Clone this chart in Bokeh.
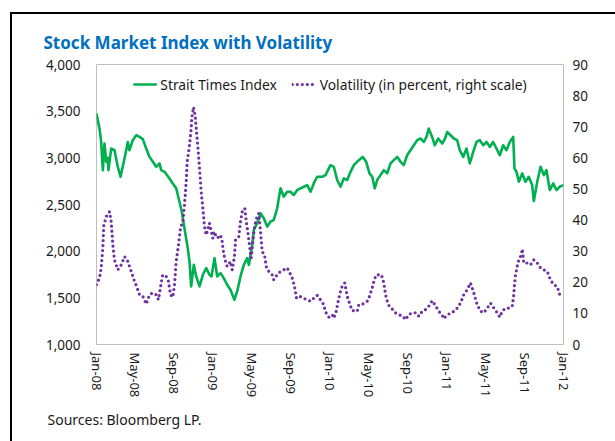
from bokeh.plotting import figure
from bokeh.models import (Range1d, LinearAxis, FixedTicker, NumeralTickFormatter,
                          Title, Legend, LegendItem, InlineStyleSheet)
from bokeh.embed import file_html
from bokeh.resources import INLINE

# months since Jan-2008
sti_months = [0, 0.31, 0.48, 0.65, 0.82, 1.00, 1.16, 1.23, 1.51, 1.85,
              2.19, 2.47, 2.88, 3.22, 3.39, 3.73, 4.08, 4.42, 4.76, 5.11,
              5.45, 5.79, 6.14, 6.48, 6.65, 6.99, 7.50, 7.84, 8.19, 8.53,
              8.77, 9.04, 9.38, 9.56, 9.73, 10.00, 10.25, 10.59, 10.93, 11.28,
              11.61, 11.82, 12.13, 12.41, 12.75, 13.08, 13.43, 13.77, 14.18, 14.46,
              14.80, 15.14, 15.49, 15.67, 16.00, 16.17, 16.52, 16.86, 17.20, 17.55,
              17.88, 18.22, 18.57, 18.91, 19.25, 19.60, 19.94, 20.28, 20.63, 20.97,
              21.31, 21.66, 22.00, 22.33, 22.68, 23.20, 23.54, 24.05, 24.39, 24.74,
              25.08, 25.42, 25.77, 26.11, 26.45, 26.96, 27.37, 27.72, 28.06, 28.34,
              28.60, 28.85, 29.19, 29.53, 29.88, 30.22, 30.56, 30.91, 31.25, 31.58,
              31.93, 32.27, 32.61, 32.96, 33.30, 33.64, 33.92, 34.15, 34.50, 34.77,
              35.12, 35.53, 35.80, 36.05, 36.39, 36.73, 37.07, 37.34, 37.69, 38.03,
              38.37, 38.72, 39.06, 39.40, 39.75, 40.09, 40.42, 40.77, 41.11, 41.45,
              41.80, 42.14, 42.48, 42.83, 42.96, 43.17, 43.41, 43.76, 44.09, 44.43,
              44.78, 44.95, 45.30, 45.64, 45.98, 46.25, 46.59, 46.94, 47.28, 47.59, 48.0]
sti_values = [3474, 3313, 3170, 2868, 3153, 2957, 3000, 2868, 3100, 3082,
              2904, 2797, 2993, 3170, 3082, 3189, 3242, 3224, 3200, 3100,
              3010, 2957, 2904, 2940, 2868, 2850, 2779, 2726, 2673, 2530,
              2423, 2246, 2032, 1889, 1622, 1854, 1729, 1622, 1747, 1818,
              1747, 1729, 1925, 1729, 1765, 1711, 1640, 1587, 1480, 1569,
              1729, 1854, 1925, 1854, 2068, 2228, 2299, 2406, 2352, 2263,
              2316, 2334, 2459, 2673, 2584, 2637, 2637, 2602, 2655, 2673,
              2690, 2708, 2637, 2726, 2797, 2797, 2815, 2922, 2904, 2762,
              2690, 2780, 2762, 2850, 2922, 2975, 3010, 2957, 2833, 2797,
              2673, 2762, 2815, 2868, 2833, 2940, 2975, 3010, 2957, 2922,
              3028, 3082, 3135, 3189, 3207, 3170, 3224, 3313, 3224, 3135,
              3207, 3153, 3200, 3277, 3242, 3207, 3189, 3082, 3010, 3100,
              2940, 3064, 3170, 3189, 3135, 3170, 3117, 3170, 3100, 3028,
              3135, 3082, 3170, 3224, 2886, 2850, 2744, 2833, 2744, 2797,
              2708, 2537, 2744, 2904, 2815, 2868, 2655, 2726, 2655, 2690, 2708]

vol_months = [0.0, 0.31, 0.48, 0.65, 0.75, 1.00, 1.34, 1.51, 1.68, 1.85,
              2.19, 2.54, 2.88, 3.22, 3.57, 3.91, 4.18, 4.42, 4.76, 5.11,
              5.45, 5.79, 6.14, 6.37, 6.65, 6.81, 7.16, 7.40, 7.61, 7.84,
              8.02, 8.19, 8.43, 8.63, 8.87, 9.04, 9.22, 9.32, 9.56, 9.73,
              9.80, 9.97, 10.14, 10.25, 10.41, 10.59, 10.76, 10.93, 11.10, 11.28,
              11.61, 11.95, 12.06, 12.41, 12.75, 12.92, 13.02, 13.16, 13.43, 13.77,
              13.95, 14.18, 14.29, 14.63, 14.80, 14.98, 15.24, 15.42, 15.55, 15.76,
              15.90, 16.11, 16.24, 16.45, 16.68, 16.86, 17.03, 17.27, 17.47, 17.71,
              18.06, 18.22, 18.57, 18.91, 19.25, 19.60, 19.87, 20.11, 20.35, 20.56,
              20.90, 21.25, 21.66, 22.00, 22.33, 22.68, 23.02, 23.36, 23.54, 23.88,
              24.23, 24.39, 24.64, 24.84, 25.08, 25.25, 25.52, 25.77, 26.00, 26.28,
              26.80, 26.96, 27.37, 27.82, 28.06, 28.34, 28.50, 28.75, 29.29, 29.53,
              29.71, 29.98, 30.32, 30.73, 31.07, 31.48, 31.76, 32.10, 32.45, 32.86,
              33.13, 33.48, 33.81, 34.15, 34.50, 34.84, 35.18, 35.53, 35.70, 36.05,
              36.56, 37.07, 37.41, 37.75, 38.10, 38.44, 38.61, 38.78, 39.13, 39.47,
              39.81, 40.16, 40.50, 40.84, 41.19, 41.45, 41.70, 42.04, 42.38, 42.73,
              42.89, 42.96, 43.07, 43.24, 43.41, 43.66, 43.76, 43.92, 44.27, 44.61,
              44.95, 45.30, 45.64, 45.98, 46.33, 46.66, 47.00, 47.35, 47.62, 48.0]
vol_values = [19.2, 21.4, 24.6, 31, 38.4, 41.1, 42.7, 39.5, 32, 27.2,
              24, 25.6, 28.3, 26.7, 23.5, 20.3, 18.2, 16, 15.5, 13,
              16, 16.6, 16, 14.4, 19.8, 22.4, 21.9, 20.3, 16, 15.2,
              19.2, 26.7, 32, 37.4, 39.5, 44.8, 52.3, 58.7, 64, 69.4,
              73.1, 76.3, 73.7, 69.4, 64, 56.6, 49.1, 43.8, 37.9, 35.2,
              39, 34.2, 36.3, 34.2, 35.2, 33.1, 30.4, 27.8, 25.1, 26.7,
              24, 28.3, 33.6, 34.7, 39.5, 42.7, 43.8, 39, 36.3, 31,
              27.8, 34.2, 37.9, 40.6, 42.2, 36.3, 29.9, 28.8, 24.6, 23.5,
              22.4, 20.8, 22.4, 23.5, 24, 24.6, 23, 21.4, 18.7, 14.9,
              15.5, 14.9, 14.4, 13.9, 14.9, 15.8, 14.4, 12.8, 10.5, 8.8,
              9.6, 8.5, 10.7, 13.9, 17.1, 18.7, 19.8, 15.5, 13.3, 10.9,
              10.7, 12.8, 13, 13.9, 15.5, 18.2, 20.3, 22.4, 22.4, 19.8,
              16, 12.8, 11.7, 10.2, 9.6, 9.1, 8, 9.6, 10.2, 10.2,
              9.1, 10.7, 11.2, 12.3, 14.1, 12.5, 10.7, 9.4, 8.3, 9.6,
              10.2, 11.7, 13.3, 16, 17.6, 19.8, 18.2, 16.6, 12.8, 10.7,
              10.2, 11.7, 13.3, 11.7, 10.2, 8.8, 10.7, 11.7, 11.7, 12.3,
              16, 19.2, 22.4, 25.1, 27.2, 28.8, 30.7, 26.2, 26.2, 25.6,
              27.2, 26.2, 24.6, 24, 23.5, 20.8, 19.2, 18.7, 16, 16.5]

x_tick_months = [0, 4, 8, 12, 16, 20, 24, 28, 32, 36, 40, 44, 48]
x_tick_labels = ["Jan-08", "May-08", "Sep-08", "Jan-09", "May-09", "Sep-09", "Jan-10",
                 "May-10", "Sep-10", "Jan-11", "May-11", "Sep-11", "Jan-12"]
left_ticks = [1000, 1500, 2000, 2500, 3000, 3500, 4000]
right_ticks = [0, 10, 20, 30, 40, 50, 60, 70, 80, 90]

FONT = "Noto Sans"
TXT = "#1a1a1a"

border_css = InlineStyleSheet(css="""
:host::after {
  content: "";
  position: absolute;
  left: 10px; top: 12px; right: 0px; bottom: 0px;
  border-top: 2px solid #000;
  border-left: 2px solid #000;
  pointer-events: none;
  z-index: 10;
}
""")

p = figure(width=615, height=441, output_backend="svg", toolbar_location=None,
           x_range=Range1d(0, 48), y_range=Range1d(1000, 4000),
           min_border_left=96, min_border_right=52, min_border_top=64, min_border_bottom=97,
           stylesheets=[border_css])
p.extra_y_ranges = {"vol": Range1d(0, 90)}
p.xgrid.visible = False
p.ygrid.visible = False
p.outline_line_color = "#BFBFBF"
p.outline_line_width = 1
p.background_fill_color = "white"
p.border_fill_color = "white"

p.title.text = "Stock Market Index with Volatility"
p.title.text_font = FONT
p.title.text_font_size = "17px"
p.title.text_font_style = "bold"
p.title.text_color = "#0070C0"
p.title.align = "left"
p.title.offset = -53
p.title.standoff = 21

def style_axis(ax, size="13.5px"):
    ax.axis_line_color = None
    ax.major_tick_line_color = None
    ax.minor_tick_line_color = None
    ax.major_tick_out = 0
    ax.major_tick_in = 0
    ax.minor_tick_out = 0
    ax.minor_tick_in = 0
    ax.major_label_text_font = FONT
    ax.major_label_text_font_size = size
    ax.major_label_text_color = TXT

xa = p.xaxis[0]
xa.ticker = FixedTicker(ticks=x_tick_months)
xa.major_label_overrides = {m: l for m, l in zip(x_tick_months, x_tick_labels)}
xa.major_label_orientation = "vertical"
xa.major_label_standoff = 8
style_axis(xa, "13px")

ya = p.yaxis[0]
ya.ticker = FixedTicker(ticks=left_ticks)
ya.formatter = NumeralTickFormatter(format="0,0")
ya.major_label_standoff = 16
style_axis(ya)

ra = LinearAxis(y_range_name="vol", ticker=FixedTicker(ticks=right_ticks))
ra.major_label_standoff = 9
style_axis(ra)
p.add_layout(ra, "right")

r_sti = p.line(sti_months, sti_values, line_color="#00B050", line_width=2.6, line_join="round")
r_vol = p.line(vol_months, vol_values, y_range_name="vol", line_color="#7030A0",
               line_width=3.2, line_dash="0 5", line_cap="round")

legend = Legend(items=[LegendItem(label="Strait Times Index", renderers=[r_sti]),
                       LegendItem(label="Volatility (in percent, right scale)", renderers=[r_vol])],
                orientation="horizontal", location="top_center",
                label_text_font=FONT, label_text_font_size="13.8px", label_text_color=TXT,
                glyph_width=24, label_standoff=4, spacing=15, padding=5, margin=5,
                background_fill_alpha=0, border_line_alpha=0)
p.add_layout(legend)

src = Title(text="Sources: Bloomberg LP.", align="left", offset=-49,
            text_font=FONT, text_font_size="14px", text_font_style="normal",
            text_color=TXT, standoff=14)
p.add_layout(src, "below")

open("out.html", "w").write(file_html(p, INLINE))
